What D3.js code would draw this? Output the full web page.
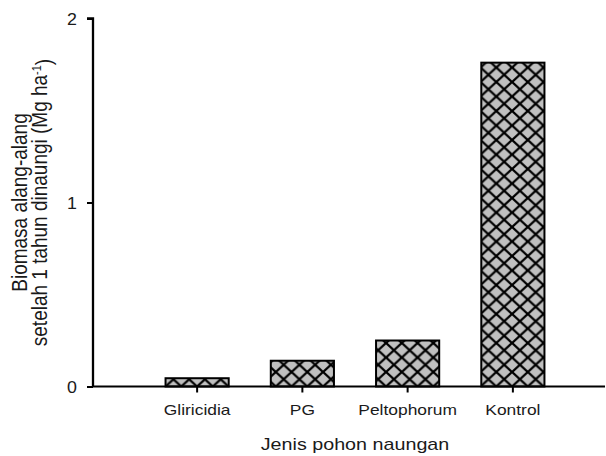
<!DOCTYPE html>
<html>
<head>
<meta charset="utf-8">
<script src="https://cdn.jsdelivr.net/npm/d3@7"></script>
<style>
  html, body { margin: 0; padding: 0; background: #fff; }
  svg { display: block; }
  text { font-family: "Liberation Sans", Arial, sans-serif; fill: #1a1a1a; }
</style>
</head>
<body>
<svg id="chart" width="606" height="456"></svg>
<script>
const categories = ["Gliricidia", "PG", "Peltophorum", "Kontrol"];
const biomass = [0.045, 0.14, 0.25, 1.76];
const yTicks = [0, 1, 2];
const xTitle = "Jenis pohon naungan";
const yTitleLine1 = "Biomasa alang-alang";
const yTitleLine2 = "setelah 1 tahun dinaungi (Mg ha";

const svg = d3.select("#chart");
const SX = 1.16; // horizontal text stretch seen in the reference

const axisLeft = 93, axisRight = 605;
const y = d3.scaleLinear().domain([0, 2]).range([386.5, 18.5]);
const x = d3.scaleBand().domain(categories).range([144.5, 565.5])
  .paddingInner(0.4).paddingOuter(0.2);

// crosshatch pattern
const pw = 15.75, ph = 14.5;
const defs = svg.append("defs");
const pat = defs.append("pattern").attr("id", "hatch")
  .attr("patternUnits", "userSpaceOnUse")
  .attr("width", pw).attr("height", ph)
  .attr("x", x(categories[0])).attr("y", y(0));
pat.append("rect").attr("width", pw).attr("height", ph).attr("fill", "#c0c0c0");
let d = "";
[-pw, 0, pw].forEach(o => {
  d += `M${o},0L${o + pw},${ph}M${o + pw},0L${o},${ph}`;
});
pat.append("path").attr("d", d).attr("stroke", "#000").attr("stroke-width", 2.3).attr("fill", "none");

// bars
svg.append("g").selectAll("rect").data(categories).join("rect")
  .attr("x", c => x(c))
  .attr("y", (c, i) => y(biomass[i]))
  .attr("width", x.bandwidth())
  .attr("height", (c, i) => y(0) - y(biomass[i]))
  .attr("fill", "url(#hatch)")
  .attr("stroke", "#000")
  .attr("stroke-width", 2);

// y axis
const yAxis = d3.axisLeft(y).tickValues(yTicks).tickFormat(d3.format("d")).tickSize(6).tickPadding(0);
const gy = svg.append("g").attr("transform", `translate(${axisLeft},0)`).call(yAxis);
gy.select(".domain").attr("d", `M-6,${y(2)}H0V${y(0)}`).attr("stroke", "#000").attr("stroke-width", 2.3);
gy.selectAll(".tick line").attr("stroke", "#000").attr("stroke-width", 2);
gy.selectAll(".tick text").attr("x", null).attr("dy", null)
  .attr("transform", "translate(-16,6) scale(1.08,1)")
  .attr("text-anchor", "end")
  .style("font-size", "16.5px").style("font-family", "Liberation Sans, Arial, sans-serif").attr("fill", "#1a1a1a");

// x axis
const xAxis = d3.axisBottom(x).tickSize(6).tickSizeOuter(0).tickPadding(0);
const gx = svg.append("g").attr("transform", `translate(0,${y(0)})`).call(xAxis);
gx.select(".domain").attr("d", `M${axisLeft},0H${axisRight}`).attr("stroke", "#000").attr("stroke-width", 2);
gx.selectAll(".tick line").attr("stroke", "#000").attr("stroke-width", 2);
gx.selectAll(".tick text").attr("y", null).attr("dy", null)
  .attr("transform", `translate(0,28.5) scale(${SX},1)`)
  .attr("text-anchor", "middle")
  .style("font-size", "15px").style("font-family", "Liberation Sans, Arial, sans-serif").attr("fill", "#1a1a1a");

// x title
svg.append("text")
  .attr("transform", `translate(${(x.range()[0] + x.range()[1]) / 2},450) scale(${SX},1)`)
  .attr("text-anchor", "middle")
  .style("font-size", "17px")
  .text(xTitle);

// y title
const yc = (y(0) + y(2)) / 2;
svg.append("text")
  .attr("transform", `translate(27,${yc}) scale(${SX},1) rotate(-90)`)
  .attr("text-anchor", "middle")
  .style("font-size", "19px")
  .text(yTitleLine1);
const t2 = svg.append("text")
  .attr("transform", `translate(47,${yc}) scale(${SX},1) rotate(-90)`)
  .attr("text-anchor", "middle")
  .style("font-size", "19px");
t2.append("tspan").text(yTitleLine2);
t2.append("tspan").attr("dy", "-0.45em").style("font-size", "11px").text("-1");
t2.append("tspan").attr("dy", "0.45em").text(")");
</script>
</body>
</html>
